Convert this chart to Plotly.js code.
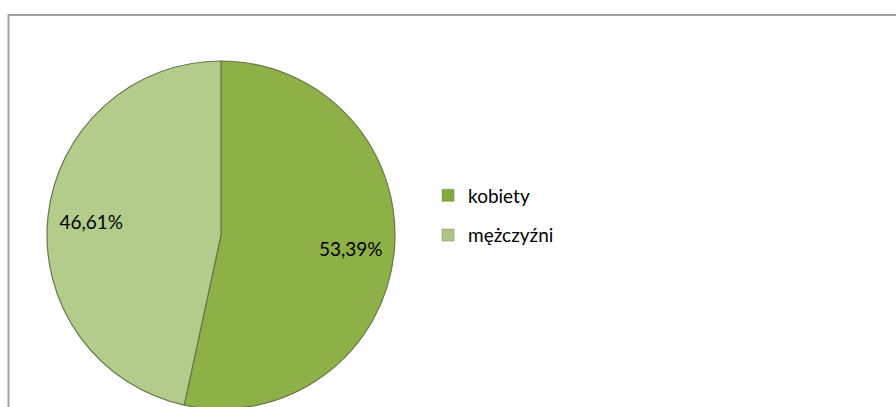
<!DOCTYPE html>
<html>
<head>
<meta charset="utf-8">
<script src="https://cdn.plot.ly/plotly-3.0.1.min.js"></script>
<style>
html, body { margin: 0; padding: 0; overflow: hidden; background: #ffffff; }
#chart { width: 896px; height: 470px; }
</style>
</head>
<body>
<div id="chart"></div>
<script>
// Data
const categories = ["kobiety", "mężczyźni"];
const shares = [53.39, 46.61];
const sliceColors = ["#8db146", "#b4cc8b"];
const legendColors = ["#84a73e", "#adc487"];

const pieDomain = { x: [0.05246, 0.44085], y: [0, 1] };
const fontFam = "Lato, 'Open Sans', sans-serif";

const traces = [{
  type: "pie",
  labels: categories,
  values: shares,
  sort: false,
  direction: "clockwise",
  rotation: 0,
  domain: pieDomain,
  marker: { colors: sliceColors, line: { color: "#66774a", width: 1.2 } },
  textinfo: "none",
  hoverinfo: "skip",
  showlegend: false
}, {
  // transparent ring carrying the percentage labels, placed toward the rim
  type: "pie",
  labels: categories,
  values: shares,
  sort: false,
  direction: "clockwise",
  rotation: 0,
  hole: 0.5,
  domain: pieDomain,
  marker: { colors: ["rgba(0,0,0,0)", "rgba(0,0,0,0)"], line: { width: 0 } },
  texttemplate: "%{value:.2f}%",
  textposition: "inside",
  insidetextorientation: "horizontal",
  textfont: { family: fontFam, size: 19, color: "#000000" },
  hoverinfo: "skip",
  showlegend: false
}];

categories.forEach((c, i) => {
  traces.push({
    type: "scatter",
    mode: "markers",
    x: [null], y: [null],
    name: c,
    legendgroup: "g" + i,
    showlegend: true,
    marker: { symbol: "square", size: 12, color: legendColors[i], line: { color: "#7a8f55", width: 0.5 } },
    hoverinfo: "skip"
  });
});

const layout = {
  width: 896,
  height: 470,
  margin: { l: 0, r: 0, t: 0, b: 0 },
  paper_bgcolor: "#ffffff",
  plot_bgcolor: "rgba(0,0,0,0)",
  separators: ", ",
  xaxis: { visible: false },
  yaxis: { visible: false },
  showlegend: true,
  legend: {
    x: 0.4777, xanchor: "left",
    y: 0.5415, yanchor: "middle",
    traceorder: "grouped",
    tracegroupgap: 12,
    font: { family: fontFam, size: 19, color: "#000000" },
    bgcolor: "rgba(0,0,0,0)"
  },
  shapes: [{
    type: "rect", xref: "paper", yref: "paper", layer: "below",
    x0: 8.5 / 896, x1: 1.05, y0: -0.05, y1: (470 - 15) / 470,
    line: { color: "#a3a3a3", width: 2 }, fillcolor: "rgba(0,0,0,0)"
  }]
};

Plotly.newPlot("chart", traces, layout, { staticPlot: true, displayModeBar: false });
</script>
</body>
</html>
